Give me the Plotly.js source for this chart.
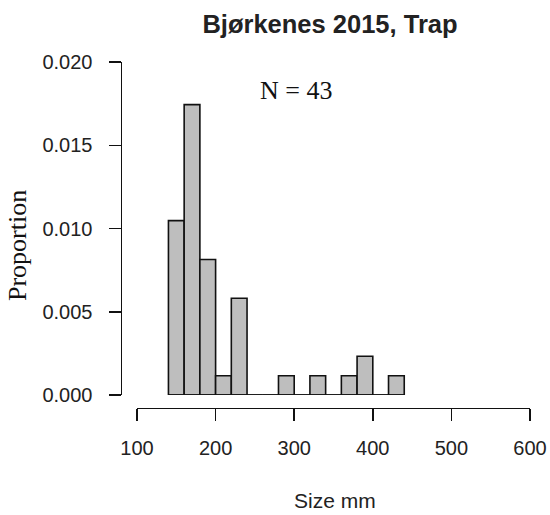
<!DOCTYPE html>
<html>
<head>
<meta charset="utf-8">
<script src="https://cdn.plot.ly/plotly-3.0.1.min.js"></script>
<style>html,body{margin:0;padding:0;background:#fff;}#chart{width:550px;height:515px;}</style>
</head>
<body>
<div id="chart"></div>
<script>
// Histogram bins (size mm), bin width 20
const binCenters = [150, 170, 190, 210, 230, 250, 270, 290, 310, 330, 350, 370, 390, 410, 430];
const binWidth = 20;
// Proportion (density)
const proportions = [0.01047, 0.01744, 0.00814, 0.00116, 0.00581, 0, 0, 0.00116, 0, 0.00116, 0, 0.00116, 0.00233, 0, 0.00116];
const xTicks = [100, 200, 300, 400, 500, 600];
const yTicks = [0, 0.005, 0.010, 0.015, 0.020];
const yTickLabels = ['0.000', '0.005', '0.010', '0.015', '0.020'];
const titleText = 'Bjørkenes 2015, Trap';
const xLabel = 'Size mm';
const yLabel = 'Proportion';
const nLabel = 'N = 43';

const W = 550, H = 515;
const px = v => v / W;
const py = v => 1 - v / H;

const bars = {
  type: 'bar',
  x: binCenters,
  y: proportions,
  width: binWidth,
  marker: {color: '#bebebe', line: {color: '#111', width: 1.6}},
  cliponaxis: false,
  hoverinfo: 'x+y',
  showlegend: false
};
const baseLine = {
  type: 'scatter',
  mode: 'lines',
  x: [binCenters[0] - binWidth / 2, binCenters[binCenters.length - 1] + binWidth / 2],
  y: [0, 0],
  line: {color: '#111', width: 1.6},
  cliponaxis: false,
  hoverinfo: 'skip',
  showlegend: false
};

const tickFont = {family: 'Liberation Sans, Arial, sans-serif', size: 20, color: '#222'};

const layout = {
  width: W, height: H,
  margin: {l: 0, r: 0, t: 0, b: 0, pad: 0},
  paper_bgcolor: '#fff', plot_bgcolor: '#fff',
  bargap: 0,
  showlegend: false,
  title: {
    text: titleText,
    x: px(330), y: py(24), xanchor: 'center', yanchor: 'middle',
    font: {family: 'Liberation Sans, Arial, sans-serif', size: 25.5, color: '#222', weight: 700}
  },
  xaxis: {
    range: [100, 600],
    domain: [px(137), px(530)],
    anchor: 'free', position: py(407.5),
    automargin: false,
    showline: true, linecolor: '#111', linewidth: 1.5,
    ticks: 'outside', ticklen: 12, tickwidth: 1.5, tickcolor: '#111',
    tickvals: xTicks, ticktext: xTicks.map(String),
    ticklabelstandoff: 10,
    tickfont: tickFont,
    showgrid: false, zeroline: false, fixedrange: true
  },
  yaxis: {
    range: [0, 0.020],
    domain: [py(395), py(62)],
    anchor: 'free', position: px(120.5),
    automargin: false,
    showline: true, linecolor: '#111', linewidth: 1.5,
    ticks: 'outside', ticklen: 12, tickwidth: 1.5, tickcolor: '#111',
    tickvals: yTicks, ticktext: yTickLabels,
    ticklabelstandoff: 12,
    tickfont: tickFont,
    showgrid: false, zeroline: false, fixedrange: true
  },
  annotations: [
    {text: nLabel, xref: 'paper', yref: 'paper', x: px(296), y: py(90), xanchor: 'center', yanchor: 'middle', showarrow: false,
     font: {family: 'Liberation Serif, Times New Roman, serif', size: 26, color: '#111'}},
    {text: xLabel, xref: 'paper', yref: 'paper', x: px(335), y: py(500), xanchor: 'center', yanchor: 'middle', showarrow: false,
     font: {family: 'Liberation Sans, Arial, sans-serif', size: 21, color: '#222'}},
    {text: yLabel, xref: 'paper', yref: 'paper', x: px(17), y: py(246), xanchor: 'center', yanchor: 'middle', showarrow: false, textangle: -90,
     font: {family: 'Liberation Serif, Times New Roman, serif', size: 26, color: '#111'}}
  ]
};

Plotly.newPlot('chart', [bars, baseLine], layout, {displayModeBar: false, staticPlot: true});
</script>
</body>
</html>
